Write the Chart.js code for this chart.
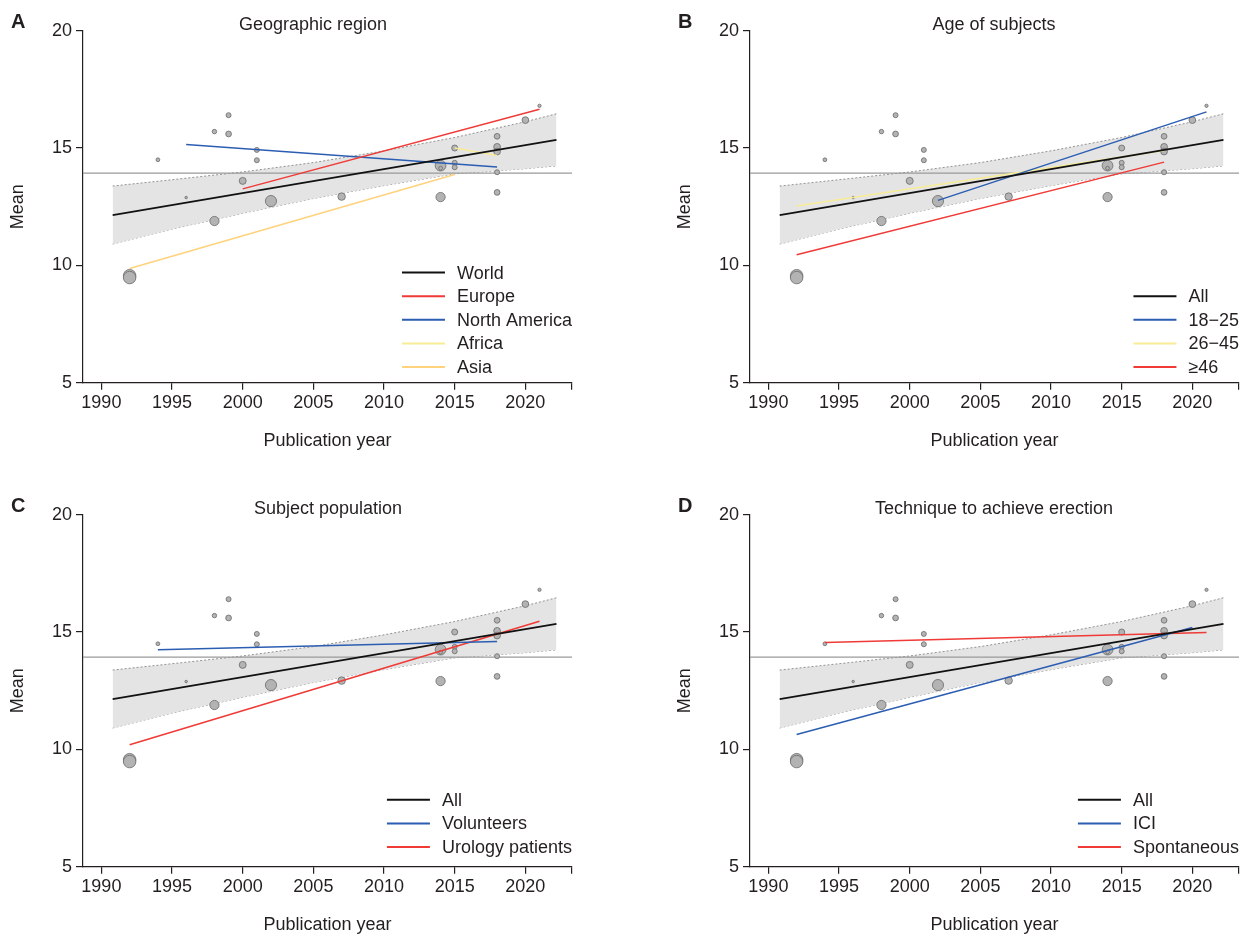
<!DOCTYPE html>
<html>
<head>
<meta charset="utf-8">
<script src="https://cdn.jsdelivr.net/npm/chart.js@4.4.1/dist/chart.umd.min.js"></script>
<style>
  body { margin: 0; background: #fff; }
  canvas { position: absolute; }
</style>
</head>
<body>
<canvas id="panelA" width="580" height="450" style="left:0;top:0"></canvas>
<canvas id="panelB" width="580" height="450" style="left:667px;top:0"></canvas>
<canvas id="panelC" width="580" height="450" style="left:0;top:484px"></canvas>
<canvas id="panelD" width="580" height="450" style="left:667px;top:484px"></canvas>
<script>
// studies: publication year, mean, relative weight (bubble area)
var years   = [1992, 1992, 1994, 1996, 1998, 1998, 1999, 1999, 2000, 2001, 2001, 2002, 2007,
               2014, 2014, 2014, 2015, 2015, 2015, 2018, 2018, 2018, 2018, 2018, 2020, 2021];
var means   = [9.56, 9.48, 14.50, 12.89, 15.70, 11.89, 16.40, 15.60, 13.60, 14.92, 14.48, 12.74, 12.93,
               12.91, 14.25, 14.14, 15.00, 14.37, 14.18, 15.50, 15.05, 14.85, 13.97, 13.11, 16.19, 16.80];
var weights = [25, 25, 2.3, 1, 3.2, 13.7, 4, 5.3, 7.8, 4, 4, 20, 9,
               13.7, 18.5, 2.3, 5.8, 4, 4, 5.3, 7.3, 7.3, 4, 5.3, 7.3, 1.7];

var xTicks = [1990, 1995, 2000, 2005, 2010, 2015, 2020];
var yTicks = [5, 10, 15, 20];
var xMin = 1988.7, xMax = 2023.3;

var pooledMean = 13.93;
var fitLine = [[1990.8, 12.14], [2022.2, 15.35]];
var bandYears = [1990.8, 1995, 2000, 2005, 2010, 2015, 2020, 2022.2];
var bandUpper = [13.38, 13.65, 13.98, 14.38, 14.88, 15.45, 16.12, 16.46];
var bandLower = [10.91, 11.55, 12.22, 12.85, 13.40, 13.90, 14.12, 14.24];

// subgroup meta-regression lines
var europeLine  = [[2000, 13.26], [2021, 16.65]];
var naLine      = [[1996, 15.15], [2018, 14.19]];
var africaLine  = [[2015, 15.00], [2018, 14.68]];
var asiaLine    = [[1992, 9.87],  [2015, 13.87]];
var age1825Line = [[2002, 12.77], [2021, 16.54]];
var age2645Line = [[1992, 12.53], [2018, 14.89]];
var age46Line   = [[1992, 10.45], [2018, 14.40]];
var volLine     = [[1994, 14.24], [2018, 14.60]];
var uroLine     = [[1992, 10.20], [2021, 15.46]];
var iciLine     = [[1992, 10.63], [2020, 15.19]];
var spontLine   = [[1994, 14.55], [2021, 14.98]];

var RED = '#ef3a36', BLUE = '#2b5db2', YELLOW = '#f8ec96', ORANGE = '#ffd27c', INK = '#231f20';
var FONT = '"Liberation Sans", Arial, Helvetica, sans-serif';

function toXY(pairs) {
    return pairs.map(function(p) { return {x: p[0], y: p[1]}; });
}

function makePanel(id, letter, title, titleX, groups, legendBottom) {
    var points = years.map(function(y, i) { return {x: y, y: means[i]}; });
    var datasets = [];

    groups.forEach(function(g) {
        datasets.push({
            data: toXY(g.line), showLine: true, borderColor: g.color,
            borderWidth: g.width || 1.5, pointRadius: 0, order: 1
        });
    });
    datasets.push({
        data: points, backgroundColor: '#b3b3b3', borderColor: '#6a6a6a', borderWidth: 0.8,
        pointRadius: weights.map(function(w) { return 1.25 * Math.sqrt(w); }), order: 2
    });
    datasets.push({
        data: [{x: xMin, y: pooledMean}, {x: xMax, y: pooledMean}], showLine: true,
        borderColor: '#9a9a9a', borderWidth: 1.3, pointRadius: 0, order: 3
    });
    var upIdx = datasets.length;
    datasets.push({
        data: bandYears.map(function(y, i) { return {x: y, y: bandUpper[i]}; }), showLine: true,
        borderColor: '#7a7a7a', borderWidth: 0.8, borderDash: [2, 2], pointRadius: 0,
        backgroundColor: '#e4e4e4', fill: {target: upIdx + 1}, order: 4
    });
    datasets.push({
        data: bandYears.map(function(y, i) { return {x: y, y: bandLower[i]}; }), showLine: true,
        borderColor: '#7a7a7a', borderWidth: 0.8, borderDash: [2, 2], pointRadius: 0,
        fill: false, order: 4
    });

    var textPlugin = {
        id: 'panelText',
        afterDraw: function(chart) {
            var ctx = chart.ctx, area = chart.chartArea;
            ctx.save();
            ctx.fillStyle = INK;
            ctx.textBaseline = 'middle';
            ctx.font = 'bold 20px ' + FONT;
            ctx.textAlign = 'left';
            ctx.fillText(letter, 11, 22);
            ctx.font = '18px ' + FONT;
            ctx.textAlign = 'center';
            ctx.fillText(title, titleX, 25);

            // legend inside the plot, right aligned
            ctx.textAlign = 'left';
            var w = 0;
            groups.forEach(function(g) { w = Math.max(w, ctx.measureText(g.label).width); });
            var tx = area.right - w;
            var y0 = legendBottom - (groups.length - 1) * 23.6;
            groups.forEach(function(g, i) {
                var y = y0 + i * 23.6;
                ctx.strokeStyle = g.color;
                ctx.lineWidth = 2;
                ctx.beginPath();
                ctx.moveTo(tx - 55, y);
                ctx.lineTo(tx - 12, y);
                ctx.stroke();
                ctx.fillText(g.label, tx, y + 1);
            });
            ctx.restore();
        }
    };

    new Chart(document.getElementById(id).getContext('2d'), {
        type: 'scatter',
        data: { datasets: datasets },
        plugins: [textPlugin],
        options: {
            responsive: false,
            animation: false,
            events: [],
            layout: { padding: { top: 30.7, right: 8, left: 0, bottom: 0 } },
            plugins: { legend: { display: false }, tooltip: { enabled: false } },
            scales: {
                x: {
                    type: 'linear', min: xMin, max: xMax,
                    afterFit: function(s) { s.height = 67.3; },
                    afterBuildTicks: function(s) {
                        s.ticks = xTicks.map(function(v) { return {value: v}; }).concat([{value: xMax}]);
                    },
                    grid: { drawOnChartArea: false, color: INK, tickLength: 7, lineWidth: 1.2 },
                    border: { color: INK, width: 1.2 },
                    ticks: {
                        color: INK, padding: 3, maxRotation: 0, autoSkip: false,
                        font: { family: FONT, size: 18 },
                        callback: function(v) { return xTicks.indexOf(v) >= 0 ? String(v) : ''; }
                    },
                    title: {
                        display: true, text: 'Publication year', color: INK,
                        font: { family: FONT, size: 18, lineHeight: 1 }, padding: { top: 0, bottom: 0 }
                    }
                },
                y: {
                    type: 'linear', min: 5, max: 20,
                    afterFit: function(s) { s.width = 83; },
                    afterBuildTicks: function(s) {
                        s.ticks = yTicks.map(function(v) { return {value: v}; });
                    },
                    grid: { drawOnChartArea: false, color: INK, tickLength: 7, lineWidth: 1.2 },
                    border: { color: INK, width: 1.2 },
                    ticks: { color: INK, padding: 4, font: { family: FONT, size: 18 } },
                    title: {
                        display: true, text: 'Mean', color: INK,
                        font: { family: FONT, size: 18, lineHeight: 1 }, padding: { top: 9, bottom: 0 }
                    }
                }
            }
        }
    });
}

var allLine = { label: 'All', color: '#111', line: fitLine, width: 1.8 };

makePanel('panelA', 'A', 'Geographic region', 313, [
    { label: 'World', color: '#111', line: fitLine, width: 1.8 },
    { label: 'Europe', color: RED, line: europeLine },
    { label: 'North America', color: BLUE, line: naLine },
    { label: 'Africa', color: YELLOW, line: africaLine },
    { label: 'Asia', color: ORANGE, line: asiaLine }
], 367);

makePanel('panelB', 'B', 'Age of subjects', 327, [
    allLine,
    { label: '18\u221225', color: BLUE, line: age1825Line },
    { label: '26\u221245', color: YELLOW, line: age2645Line },
    { label: '\u226546', color: RED, line: age46Line }
], 367);

makePanel('panelC', 'C', 'Subject population', 328, [
    allLine,
    { label: 'Volunteers', color: BLUE, line: volLine },
    { label: 'Urology patients', color: RED, line: uroLine }
], 363);

makePanel('panelD', 'D', 'Technique to achieve erection', 327, [
    allLine,
    { label: 'ICI', color: BLUE, line: iciLine },
    { label: 'Spontaneous', color: RED, line: spontLine }
], 363);
</script>
</body>
</html>
